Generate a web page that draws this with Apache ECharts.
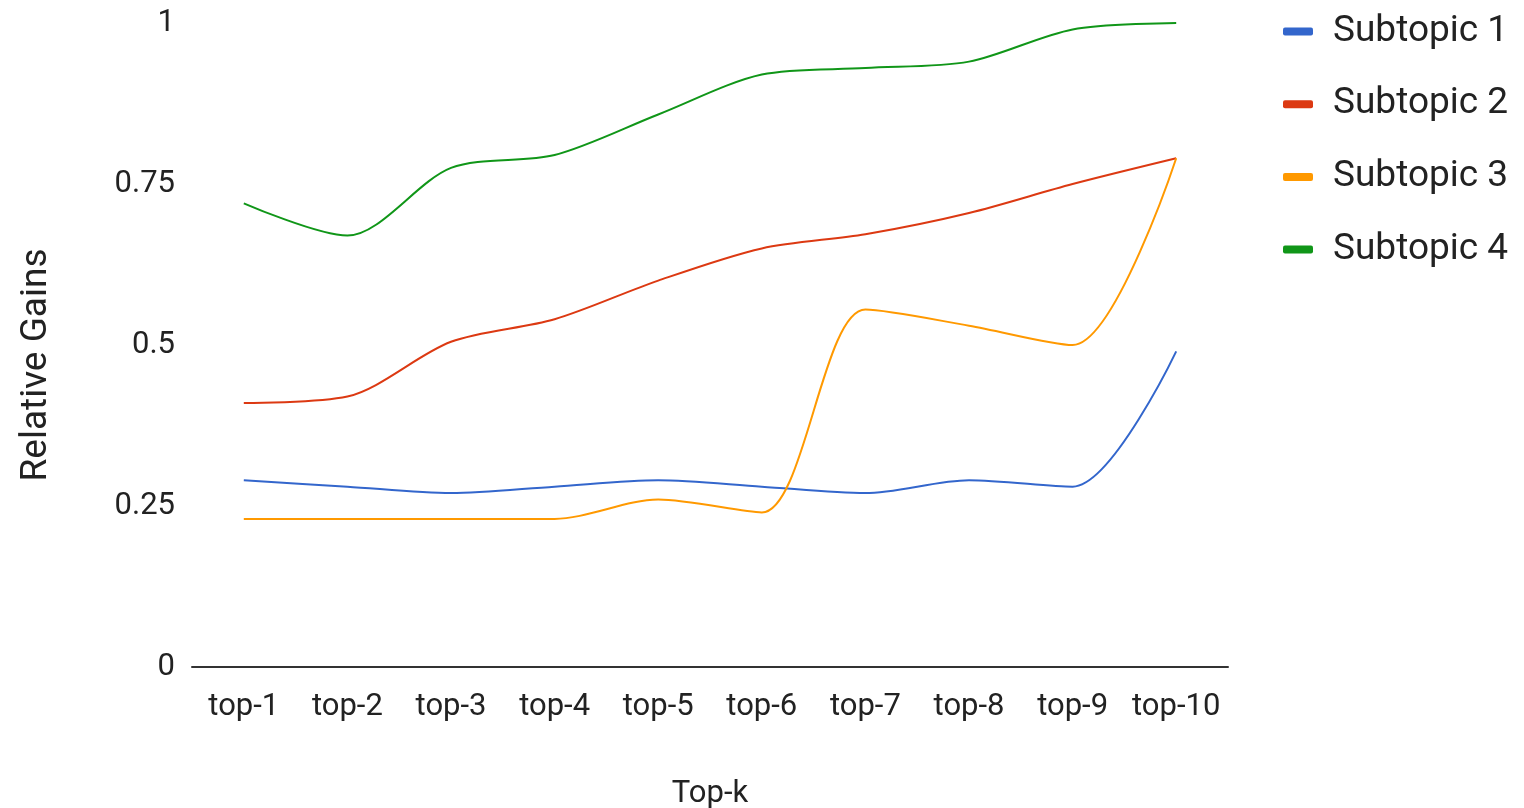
<!DOCTYPE html>
<html>
<head>
<meta charset="utf-8">
<title>Relative Gains by Top-k</title>
<script src="https://cdn.jsdelivr.net/npm/echarts@6/dist/echarts.min.js"></script>
<style>
  html, body { margin: 0; padding: 0; background: #fff; }
  #chart { width: 1524px; height: 808px; }
</style>
</head>
<body>
<div id="chart"></div>
<script>
// Categories along the x axis
const categories = ['top-1', 'top-2', 'top-3', 'top-4', 'top-5', 'top-6', 'top-7', 'top-8', 'top-9', 'top-10'];

// Relative gains per subtopic
const subtopic1 = [0.29, 0.28, 0.27, 0.28, 0.29, 0.28, 0.27, 0.29, 0.28, 0.49];
const subtopic2 = [0.41, 0.42, 0.505, 0.54, 0.6, 0.65, 0.672, 0.705, 0.75, 0.79];
const subtopic3 = [0.23, 0.23, 0.23, 0.23, 0.26, 0.24, 0.555, 0.53, 0.5, 0.79];
const subtopic4 = [0.72, 0.67, 0.775, 0.795, 0.858, 0.92, 0.93, 0.94, 0.99, 1.0];

const seriesNames = ['Subtopic 1', 'Subtopic 2', 'Subtopic 3', 'Subtopic 4'];
const seriesValues = [subtopic1, subtopic2, subtopic3, subtopic4];
const colors = ['#3366cc', '#dc3912', '#ff9900', '#109618'];

const FONT = 'Roboto, "Noto Sans", sans-serif';

const chart = echarts.init(document.getElementById('chart'), null, { renderer: 'canvas' });

chart.setOption({
  animation: false,
  color: colors,
  textStyle: { fontFamily: FONT },
  grid: { left: 192, right: 296, top: 23, bottom: 141, containLabel: false, outerBoundsMode: 'none' },
  legend: {
    orient: 'vertical',
    left: 1283,
    top: 13,
    padding: 0,
    icon: 'roundRect',
    itemWidth: 30,
    itemHeight: 8,
    itemGap: 35.7,
    textStyle: { fontFamily: FONT, fontSize: 37, color: '#222', lineHeight: 36, padding: [0, 0, 0, 15] },
    data: seriesNames
  },
  xAxis: {
    type: 'category',
    data: categories,
    boundaryGap: true,
    name: 'Top-k',
    nameLocation: 'middle',
    nameGap: 112,
    nameTextStyle: { fontFamily: FONT, fontSize: 31, color: '#222' },
    axisLine: { show: true, lineStyle: { color: '#333', width: 2 } },
    axisTick: { show: false },
    axisLabel: { interval: 0, fontFamily: FONT, fontSize: 31, color: '#222', margin: 25 },
    splitLine: { show: false }
  },
  yAxis: {
    type: 'value',
    min: 0,
    max: 1,
    interval: 0.25,
    name: 'Relative Gains',
    nameLocation: 'middle',
    nameGap: 137,
    nameTextStyle: { fontFamily: FONT, fontSize: 37, color: '#222', padding: [0, 40, 0, 0] },
    axisLine: { show: false },
    axisTick: { show: false },
    axisLabel: {
      fontFamily: FONT, fontSize: 31, color: '#222', margin: 17,
      verticalAlign: 'middle', lineHeight: 31, padding: [6, 0, 0, 0]
    },
    splitLine: { show: false }
  },
  series: seriesNames.map((name, i) => ({
    name: name,
    type: 'line',
    data: seriesValues[i],
    smooth: 0.3,
    symbol: 'none',
    lineStyle: { width: 2, color: colors[i] },
    itemStyle: { color: colors[i] }
  }))
});
</script>
</body>
</html>
